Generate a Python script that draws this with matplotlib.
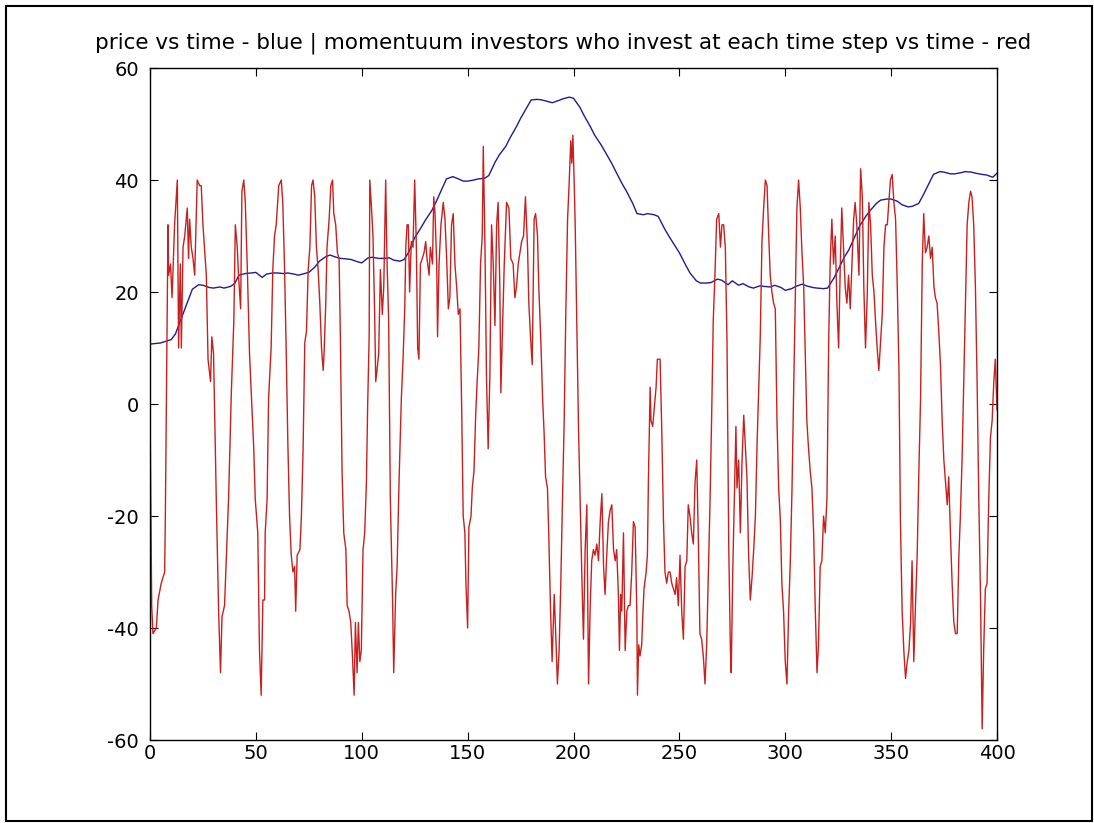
import matplotlib
matplotlib.use("Agg")
import matplotlib.pyplot as plt
from matplotlib.patches import Rectangle

# price (blue)
price_t = [0, 5, 10, 12, 15, 18, 20, 23, 25, 28, 30, 33, 35, 38, 40, 42, 45, 48, 50, 53,
           55, 58, 60, 63, 65, 68, 70, 73, 75, 78, 80, 83, 85, 88, 90, 93, 95, 98, 100, 103,
           105, 108, 110, 113, 115, 118, 120, 122, 125, 128, 130, 133, 135, 138, 140, 143, 145, 148, 150, 153,
           155, 158, 160, 163, 165, 168, 170, 173, 175, 178, 180, 183, 185, 188, 190, 193, 195, 198, 200, 203,
           205, 208, 210, 213, 215, 218, 220, 223, 225, 228, 230, 233, 235, 238, 240, 243, 245, 248, 250, 253,
           255, 258, 260, 263, 265, 268, 270, 273, 275, 278, 280, 283, 285, 288, 290, 293, 295, 298, 300, 303,
           305, 308, 310, 313, 315, 318, 320, 323, 325, 328, 330, 333, 335, 338, 340, 343, 345, 348, 350, 353,
           355, 358, 360, 363, 365, 368, 370, 373, 375, 378, 380, 383, 385, 388, 390, 393, 395, 398, 400]
price = [10.7, 10.9, 11.5, 12.5, 15.5, 18.5, 20.5, 21.3, 21.2, 20.8, 20.7, 20.9, 20.7, 21.0, 21.5, 23.0, 23.3, 23.4, 23.5, 22.6,
         23.2, 23.4, 23.4, 23.3, 23.4, 23.2, 23.0, 23.3, 23.5, 24.5, 25.5, 26.3, 26.6, 26.2, 26.0, 25.9, 25.8, 25.4, 25.2, 26.1,
         26.2, 26.0, 26.0, 26.1, 25.7, 25.5, 25.8, 27.0, 29.7, 31.5, 32.8, 34.5, 36.0, 38.5, 40.2, 40.6, 40.3, 39.8, 39.8, 40.0,
         40.2, 40.3, 40.8, 43.2, 44.5, 46.0, 47.5, 49.5, 51.0, 53.0, 54.3, 54.4, 54.3, 54.0, 53.8, 54.2, 54.5, 54.8, 54.6, 53.0,
         51.5, 49.5, 48.0, 46.3, 45.0, 43.0, 41.5, 39.3, 38.0, 35.8, 34.0, 33.8, 34.0, 33.8, 33.5, 31.3, 30.0, 28.2, 27.0, 24.8,
         23.4, 22.0, 21.6, 21.6, 21.7, 22.3, 22.1, 21.3, 22.0, 21.2, 21.5, 20.9, 20.7, 21.1, 21.0, 20.9, 21.2, 20.8, 20.3, 20.6,
         21.0, 21.4, 21.1, 20.8, 20.7, 20.6, 20.7, 22.5, 24.0, 26.3, 27.5, 30.0, 31.7, 33.5, 34.5, 35.8, 36.4, 36.6, 36.6, 36.2,
         35.6, 35.2, 35.3, 35.8, 37.2, 39.5, 41.0, 41.5, 41.4, 41.1, 41.1, 41.3, 41.5, 41.4, 41.2, 41.0, 40.9, 40.5, 41.2]

# momentum investors per time step (red)
invest_t = [0, 0.8, 1.4, 3.0, 3.8, 5.3, 6.9, 7.2, 8.5, 8.8, 9.7, 10.4, 10.8, 11.6, 12.9, 13.5, 14.3, 14.8, 15.6, 16.4,
            17.6, 18.2, 18.7, 19.5, 20.3, 21.1, 22.3, 23.4, 24.2, 25.0, 26.6, 27.4, 28.6, 29.2, 30.0, 31.3, 32.4, 33.3, 34.0, 35.2,
            36.5, 37.1, 38.4, 39.6, 40.3, 41.2, 41.8, 42.8, 43.4, 44.3, 45.0, 45.9, 47.0, 49.0, 49.7, 50.9, 51.7, 52.5, 53.3, 54.1,
            54.4, 55.3, 56.0, 57.2, 58.0, 58.8, 59.6, 60.8, 62.0, 62.7, 63.5, 64.3, 65.1, 65.9, 66.7, 67.5,
            68.3, 68.8, 69.5, 70.8, 71.5, 72.3, 73.1, 73.9, 74.7, 75.5, 76.3, 77.0, 77.8, 78.6, 79.4, 80.2, 81.0, 81.8, 82.2, 83.0,
            83.6, 84.6, 85.4, 86.2, 86.8, 87.7, 88.5, 89.3, 89.9, 90.7, 91.5, 92.5, 93.1, 94.0, 94.8, 95.6, 96.4, 97.0, 97.8, 98.4,
            99.1, 99.8, 100.6, 101.4, 102.2, 102.8, 103.5, 103.8, 104.6, 105.3, 106.1, 106.6, 107.2, 108.0, 108.8, 109.7, 110.4, 111.3, 111.9, 112.7,
            113.5, 114.5, 115.1, 116.0, 116.7, 117.6, 118.7, 119.5, 120.3, 120.8, 121.4, 122.0, 122.6, 123.4, 124.2, 125.0, 125.8, 126.4, 127.0, 127.7,
            128.6, 129.4, 130.2, 130.8, 131.8, 132.4, 133.4,
            134.0, 134.6, 135.4, 135.8, 136.5, 137.4, 138.5, 139.3, 140.1, 140.9, 141.6, 142.4, 143.2, 144.0, 144.8, 145.6, 146.4, 147.2, 147.9, 148.7,
            149.2, 150.0, 150.6, 151.6, 152.2, 153.0, 153.8, 154.5, 155.3, 156.1, 156.9, 157.4, 158.2, 158.9, 159.7, 160.5, 161.3, 162.1, 162.9, 163.7,
            164.4, 165.2, 165.7, 166.3, 167.3, 168.4, 169.5, 170.4, 171.5, 172.3, 173.1, 173.9, 174.7, 175.5, 176.4, 177.3, 178.3, 178.9, 179.7, 180.5,
            181.4, 182.1, 183.0, 183.6, 184.6, 185.4, 186.1, 186.8, 187.7, 188.3, 189.1, 189.9, 190.9, 191.6, 192.4, 193.2, 194.0, 194.8, 195.6, 196.4,
            197.2, 197.9, 198.7, 199.2, 199.7, 200.3,
            200.8, 201.6, 202.4, 203.1, 203.9, 204.7, 205.5, 206.3, 207.1, 207.9, 208.6, 209.4, 210.2, 211.0, 211.8, 212.6, 213.4, 214.2, 214.9, 215.7,
            216.5, 217.3, 218.1, 218.9, 219.7, 220.4, 221.2, 221.7, 222.3, 222.8, 223.6, 224.4, 225.2, 225.9, 226.7, 227.5, 228.3, 229.1, 229.9, 230.2,
            230.8, 231.4, 232.2, 232.7, 233.3, 234.3, 234.9, 235.4, 236.2, 236.6, 237.4, 238.1, 239.0, 239.6, 240.3, 240.9, 241.7, 242.5, 243.2, 244.0,
            244.8, 245.6, 246.4, 247.2, 248.0, 248.7, 249.5, 250.3, 251.1, 251.9, 252.7, 253.5, 254.2, 255.0, 255.8, 256.6, 257.4, 258.2, 259.0, 259.7,
            260.5, 261.3, 262.1, 262.9, 263.7, 264.5, 265.3, 266.0, 266.8, 267.6,
            268.6, 269.4, 270.1, 270.9, 271.7, 272.5, 273.3, 274.1, 274.5, 275.2, 276.1, 276.7, 277.2, 278.0, 278.8, 279.6, 280.4, 281.2, 281.9, 282.7,
            283.5, 284.3, 285.1, 285.9, 286.7, 287.4, 288.2, 289.0, 289.8, 290.6, 291.4, 292.2, 292.9, 293.7, 294.5, 295.3, 296.1, 296.9, 297.7, 298.4,
            299.2, 300.0, 300.8, 301.6, 302.4, 303.2, 303.9, 304.7, 305.5, 306.3, 307.1, 307.9, 308.7, 309.5, 310.2, 311.0, 311.8, 312.6, 313.4, 314.2,
            315.0, 315.7, 316.5, 317.3, 318.1, 318.9, 319.7, 320.5, 321.2, 322.0, 322.8, 323.6, 324.4, 325.2, 326.0, 326.7, 327.5, 328.3, 329.1, 329.9,
            330.7, 331.5, 332.3, 333.0, 333.8,
            334.8, 335.6, 336.4, 337.1, 337.9, 338.7, 339.5, 340.3, 341.1, 341.9, 342.6, 343.4, 344.2, 345.0, 345.8, 346.6, 347.4, 348.2, 348.9, 349.7,
            350.5, 351.3, 352.1, 352.9, 353.7, 354.4, 355.2, 356.0, 356.8, 357.6, 358.4, 359.2, 359.9, 360.7, 361.5, 362.3, 363.1, 363.9, 364.7, 365.4,
            366.2, 367.0, 367.8, 368.6, 369.4, 370.2, 370.9, 371.7, 372.5, 373.3, 374.1, 374.9, 375.7, 376.5, 377.2, 378.0, 378.8, 379.6, 380.4, 381.2,
            382.0, 382.7, 383.5, 384.3, 385.1, 385.9, 386.7, 387.5, 388.2, 389.0, 389.8, 390.6, 391.4, 392.2, 393.0, 393.7, 394.5, 395.3, 396.1, 396.9,
            397.7, 398.5, 399.2, 400.0]
invest = [0, -36, -41, -40, -35, -32, -30, -22, 32, 23, 25, 19, 23, 32, 40, 10, 25, 10, 28, 30,
          35, 26, 33, 28, 26, 23, 40, 39, 39, 32, 23, 8, 4, 12, 9, -17, -37, -48, -38, -36,
          -23, -17, 2, 15, 32, 28, 23, 17, 38, 40, 36, 25, 9, -8, -17, -23, -44, -52, -35, -35,
          -23, -17, 1, 10, 24, 30, 32, 39, 40, 36, 25, 10, -7, -20, -27, -30,
          -29, -37, -27, -26, -20, -8, 11, 13, 24, 28, 39, 40, 37, 28, 24, 18, 10, 6, 9, 18,
          28, 33, 39, 40, 34, 32, 27, 26, 12, -12, -23, -26, -36, -37, -39, -45, -52, -39, -48, -39,
          -46, -44, -26, -23, -14, 0, 12, 40, 35, 30, 16, 4, 6, 9, 24, 16, 21, 40, 26, 15,
          -17, -34, -48, -34, -29, -14, 1, 8, 17, 28, 32, 32, 20, 29, 28, 40, 28, 10, 8, 25,
          26, 27, 29, 26, 23, 28, 25,
          37, 34, 25, 12, 25, 32, 36, 33, 26, 17, 19, 32, 34, 25, 21, 16, 17, -1, -20, -23,
          -32, -40, -22, -20, -15, -12, -2, 4, 10, 25, 30, 46, 28, 5, -8, 5, 32, 25, 14, 32,
          36, 21, 2, 11, 25, 36, 35, 26, 25, 19, 21, 25, 27, 29, 30, 37, 28, 18, 12, 7,
          33, 34, 30, 21, 11, 1, -5, -13, -15, -23, -36, -46, -34, -41, -50, -44, -32, -17, -3, 17,
          33, 39, 47, 43, 48, 40,
          32, 13, -5, -17, -30, -42, -26, -18, -50, -36, -28, -26, -27, -25, -28, -21, -16, -29, -34, -27,
          -21, -19, -18, -26, -28, -26, -34, -44, -34, -37, -23, -44, -37, -36, -36, -30, -21, -22, -37, -52,
          -43, -45, -43, -38, -33, -30, -27, -13, 3, -3, -4, -1, 3, 8, 8, 8, -5, -21, -30, -32,
          -30, -30, -32, -33, -34, -31, -36, -27, -37, -42, -29, -28, -18, -20, -23, -25, -14, -10, -25, -41,
          -42, -45, -50, -43, -30, -17, -1, 15, 23, 33,
          34, 28, 32, 32, 28, 11, -25, -44, -48, -30, -14, -4, -15, -10, -23, -10, -2, -8, -13, -27,
          -35, -31, -26, -20, -7, 2, 12, 29, 35, 40, 39, 30, 23, 20, 18, 17, -3, -15, -21, -32,
          -37, -46, -50, -37, -28, -15, 1, 18, 35, 40, 35, 27, 21, 8, -3, -8, -12, -15, -23, -37,
          -48, -43, -29, -28, -20, -23, -17, 11, 25, 33, 25, 30, 18, 10, 25, 35, 28, 21, 18, 23,
          17, 25, 33, 36, 32,
          23, 42, 37, 21, 10, 19, 36, 32, 23, 20, 15, 10, 6, 11, 16, 28, 32, 32, 36, 40,
          41, 36, 33, 21, 6, -21, -37, -44, -49, -46, -44, -39, -28, -46, -36, -27, -12, 1, 25, 34,
          27, 28, 30, 26, 28, 21, 19, 18, 13, 7, -3, -10, -14, -18, -13, -23, -32, -39, -41, -41,
          -27, -20, -10, 4, 18, 32, 36, 38, 37, 32, 21, 4, -17, -34, -58, -44, -33, -32, -17, -6,
          -3, 4, 8, -1]

xticks = [0, 50, 100, 150, 200, 250, 300, 350, 400]
yticks = [-60, -40, -20, 0, 20, 40, 60]
title = "price vs time - blue | momentuum investors who invest at each time step vs time - red"

plt.rcParams['font.family'] = ['DejaVu Sans']
plt.rcParams['axes.unicode_minus'] = False

fig = plt.figure(figsize=(10.94, 8.23), dpi=100)
ax = fig.add_axes([150 / 1094, 1 - 740 / 823, 847 / 1094, 672 / 823])

ax.plot(price_t, price, color='#1c1c96', lw=1.0)
ax.plot(invest_t, invest, color='#c8201f', lw=1.0)

ax.set_xlim(0, 400)
ax.set_ylim(-60, 60)
ax.set_xticks(xticks)
ax.set_yticks(yticks)
ax.tick_params(direction='in', length=6, width=0.8, top=True, right=True,
               labelsize=14, colors='black')
ax.tick_params(axis='x', pad=3)
ax.tick_params(axis='y', pad=8)
for sp in ax.spines.values():
    sp.set_linewidth(1.0)
ax.set_title(title, fontsize=15.5, pad=14, x=0.488)

# thin frame round the whole figure
fig.patches.append(Rectangle((6 / 1094, 2 / 823), 1086 / 1094, 815 / 823,
                             transform=fig.transFigure, fill=False,
                             edgecolor='black', lw=1.5))

fig.savefig("out.png", dpi=100, facecolor='white')
